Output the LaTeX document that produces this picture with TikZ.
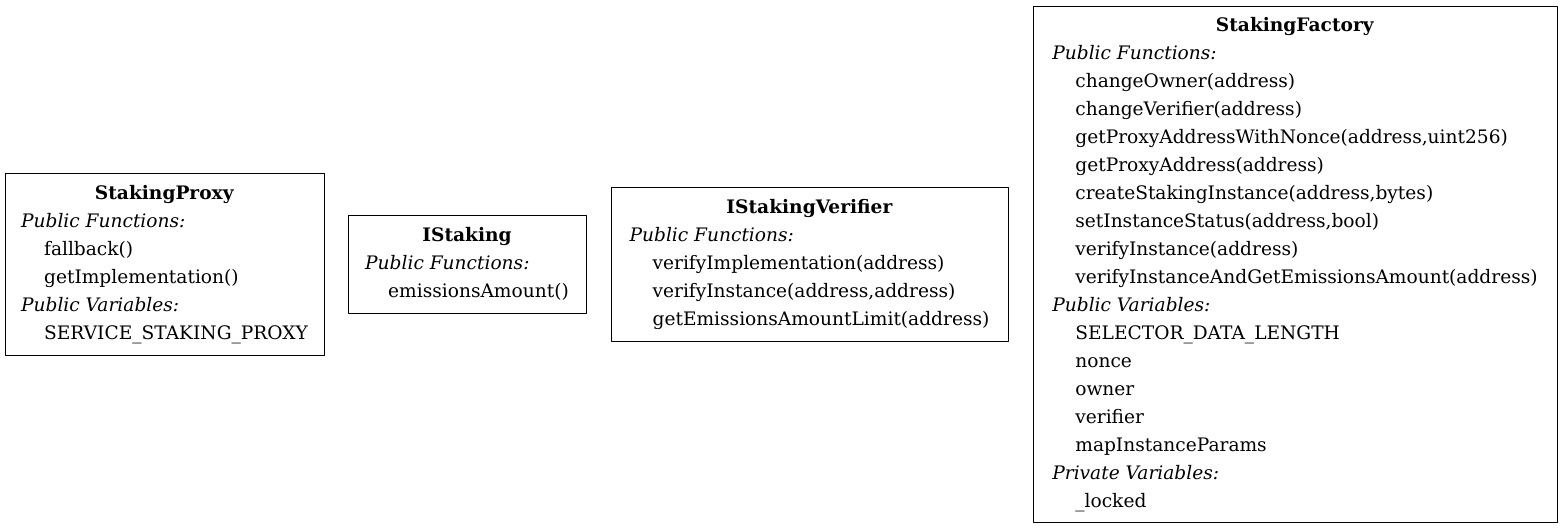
\documentclass[tikz,border=0pt]{standalone}
\usepackage{fontspec}
\setmainfont{DejaVu Serif}
\usepackage{tikz}
\usetikzlibrary{positioning}
\newcommand{\mem}{\hspace*{23pt}}

\begin{document}
\begin{tikzpicture}[line join=round, x=1pt, y=-1pt, cls/.style={rectangle, draw, line width=1pt, inner sep=0pt, outer sep=0pt, font=\fontsize{18.6}{28}\selectfont}]
    \useasboundingbox (0,0) rectangle (1563,528);

    \node[cls, minimum width=319, minimum height=182] (proxy) at (164.5,264) {\begin{tabular}{@{}l@{}}
        \multicolumn{1}{c}{\textbf{StakingProxy}}\\
        \textit{Public Functions:}\\
        \mem fallback()\\
        \mem getImplementation()\\
        \textit{Public Variables:}\\
        \mem SERVICE\_STAKING\_PROXY
    \end{tabular}};

    \node[cls, minimum width=238, minimum height=98, right=24pt of proxy] (istaking) {\begin{tabular}{@{}l@{}}
        \multicolumn{1}{c}{\textbf{IStaking}}\\
        \textit{Public Functions:}\\
        \mem emissionsAmount()
    \end{tabular}};

    \node[cls, minimum width=397, minimum height=154, right=25pt of istaking] (verifier) {\begin{tabular}{@{}l@{}}
        \multicolumn{1}{c}{\textbf{IStakingVerifier}}\\
        \textit{Public Functions:}\\
        \mem verifyImplementation(address)\\
        \mem verifyInstance(address,address)\\
        \mem getEmissionsAmountLimit(address)
    \end{tabular}};

    \node[cls, minimum width=524, minimum height=516, right=25pt of verifier] (factory) {\begin{tabular}{@{}l@{}}
        \multicolumn{1}{c}{\textbf{StakingFactory}}\\
        \textit{Public Functions:}\\
        \mem changeOwner(address)\\
        \mem changeVerifier(address)\\
        \mem getProxyAddressWithNonce(address,uint256)\\
        \mem getProxyAddress(address)\\
        \mem createStakingInstance(address,bytes)\\
        \mem setInstanceStatus(address,bool)\\
        \mem verifyInstance(address)\\
        \mem verifyInstanceAndGetEmissionsAmount(address)\\
        \textit{Public Variables:}\\
        \mem SELECTOR\_DATA\_LENGTH\\
        \mem nonce\\
        \mem owner\\
        \mem verifier\\
        \mem mapInstanceParams\\
        \textit{Private Variables:}\\
        \mem \_locked
    \end{tabular}};
\end{tikzpicture}
\end{document}
